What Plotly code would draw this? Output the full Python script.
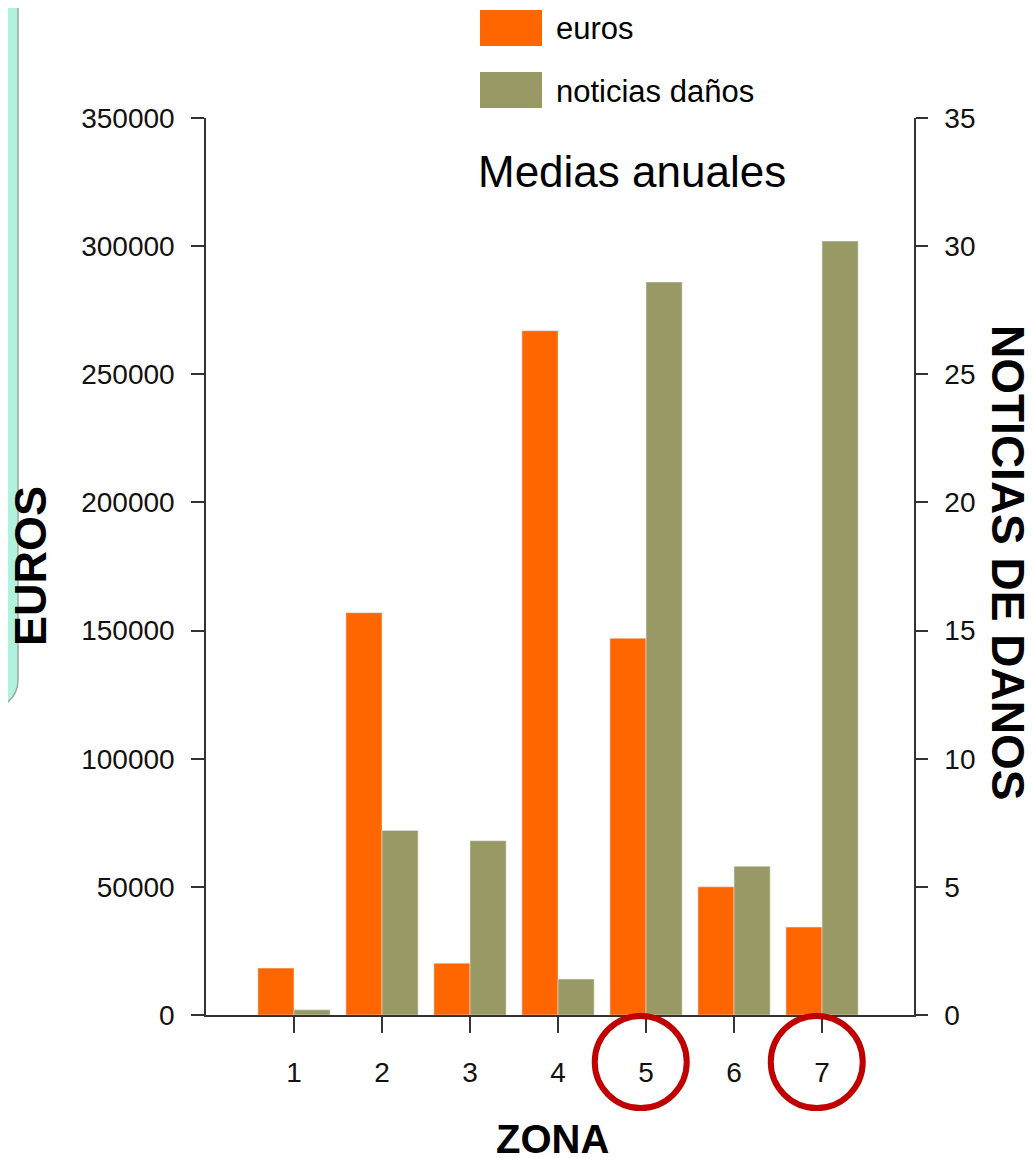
import plotly.graph_objects as go

zonas = [1, 2, 3, 4, 5, 6, 7]
euros = [18300, 157000, 20200, 267000, 147000, 50000, 34300]
noticias = [0.2, 7.2, 6.8, 1.4, 28.6, 5.8, 30.2]
euros_ticks = [0, 50000, 100000, 150000, 200000, 250000, 300000, 350000]
noticias_ticks = [0, 5, 10, 15, 20, 25, 30, 35]
zonas_marcadas = [5, 7]

FONT = "Liberation Sans, Arial, sans-serif"
ORANGE = "#ff6600"
OLIVE = "#999966"
AXIS = "#333333"

# page body adds an 8px offset, so margins are shifted by that amount
W, H = 1034, 1158
L, R, T, B = 198, 128, 110, 151
PW, PH = W - L - R, H - T - B
X0, Y0 = 206, 1015  # plot corner in screen pixels


def px(x):
    return (x - X0) / PW


def py(y):
    return (Y0 - y) / PH


fig = go.Figure()
fig.add_trace(go.Bar(x=zonas, y=euros, name="euros", marker_color=ORANGE,
                     width=0.41, offset=-0.41, yaxis="y"))
fig.add_trace(go.Bar(x=zonas, y=noticias, name="noticias daños", marker_color=OLIVE,
                     width=0.41, offset=0, yaxis="y2"))

tick_font = dict(family=FONT, size=28, color="#111111")
fig.update_layout(
    width=W, height=H, autosize=False,
    margin=dict(l=L, r=R, t=T, b=B),
    plot_bgcolor="white", paper_bgcolor="white",
    showlegend=False,
    font=dict(family=FONT, color="black"),
    xaxis=dict(range=[0, 8.045], tickvals=zonas, ticktext=[str(z) for z in zonas],
               ticks="outside", ticklen=16, tickcolor=AXIS, tickwidth=1.5,
               showline=True, linecolor=AXIS, linewidth=1.5,
               showgrid=False, zeroline=False,
               tickfont=tick_font, ticklabelstandoff=16),
    yaxis=dict(range=[0, 350000], tickvals=euros_ticks, tickformat="d",
               ticks="outside", ticklen=13, tickcolor=AXIS, tickwidth=1.5,
               showline=True, linecolor=AXIS, linewidth=1.5,
               showgrid=False, zeroline=False,
               tickfont=tick_font, ticklabelstandoff=11),
    yaxis2=dict(range=[0, 35], tickvals=noticias_ticks, overlaying="y", side="right",
                ticks="outside", ticklen=12, tickcolor=AXIS, tickwidth=1.5,
                showline=True, linecolor=AXIS, linewidth=1.5,
                showgrid=False, zeroline=False,
                tickfont=tick_font, ticklabelstandoff=11),
)

shapes = []
# slide decoration on the left edge
shapes.append(dict(type="path", xref="paper", yref="paper",
                   path=f"M {px(-20)} {py(-20)} L {px(18)} {py(-20)} L {px(18)} {py(680)} "
                        f"Q {px(18)} {py(706)} {px(-20)} {py(714)} Z",
                   fillcolor="#b0f2dd", line=dict(color="#9aa8a4", width=1.5), layer="below"))

# legend drawn by hand (large swatches)
for i, (name, col) in enumerate([("euros", ORANGE), ("noticias daños", OLIVE)]):
    top = 10 + i * 62
    shapes.append(dict(type="rect", xref="paper", yref="paper",
                       x0=px(480), x1=px(542), y0=py(top), y1=py(top + 36),
                       fillcolor=col, line=dict(width=0)))
    fig.add_annotation(x=px(554), y=py(top + 19), xref="paper", yref="paper",
                       text=name, showarrow=False, xanchor="left", yanchor="middle",
                       font=dict(family=FONT, size=31))

# red circles around the highlighted zones
for z in zonas_marcadas:
    shapes.append(dict(type="circle", xref="x", yref="paper",
                       xsizemode="pixel", xanchor=z - 0.06, x0=-46, x1=46,
                       y0=py(1062 - 46), y1=py(1062 + 46),
                       line=dict(color="#c00000", width=6)))

fig.update_layout(shapes=shapes)

fig.add_annotation(x=px(632), y=py(171), xref="paper", yref="paper",
                   text="Medias anuales", showarrow=False,
                   xanchor="center", yanchor="middle",
                   font=dict(family=FONT, size=44))
fig.add_annotation(x=px(30), y=py(566), xref="paper", yref="paper",
                   text="<b>EUROS</b>", showarrow=False, textangle=-90,
                   xanchor="center", yanchor="middle",
                   font=dict(family=FONT, size=45))
fig.add_annotation(x=px(1008), y=py(562), xref="paper", yref="paper",
                   text="<b>NOTICIAS DE DAÑOS</b>", showarrow=False, textangle=90,
                   xanchor="center", yanchor="middle",
                   font=dict(family=FONT, size=46))
fig.add_annotation(x=px(552), y=py(1139), xref="paper", yref="paper",
                   text="<b>ZONA</b>", showarrow=False,
                   xanchor="center", yanchor="middle",
                   font=dict(family=FONT, size=40))

fig.write_html("out.html")
